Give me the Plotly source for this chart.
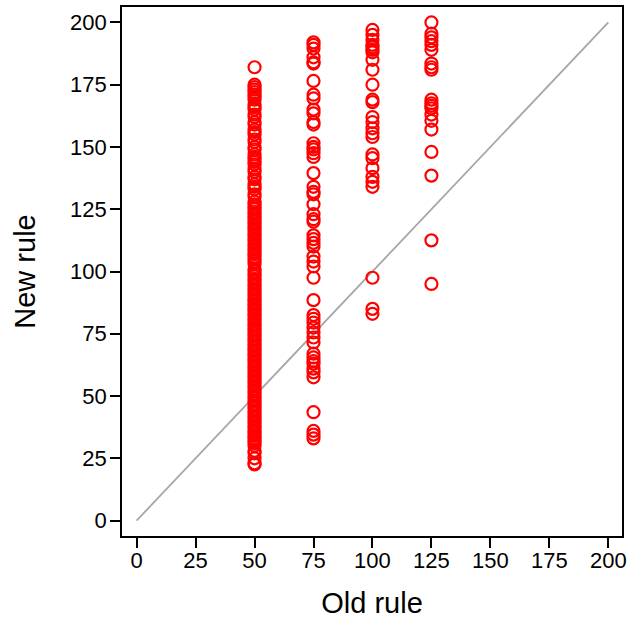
import plotly.graph_objects as go

# Scores under the old rule (discrete levels) and the new rule
old_levels = [50, 75, 100, 125]

new_at_50 = [182, 175, 174, 173, 172, 171, 170, 169, 167, 166, 165, 163, 162, 160,
             159, 157, 156, 155, 153, 152, 150, 149, 147, 146, 145, 144, 143, 141,
             140, 138, 137, 135, 134, 133, 131, 130, 128, 127, 126, 125, 124, 123,
             122, 121, 120, 119, 118, 117, 116, 115, 114, 113, 112, 111, 110, 109,
             108, 107, 106, 105, 104, 103, 101, 100, 99, 98, 97, 96, 95, 94, 93, 92,
             91, 90, 89, 88, 87, 86, 85, 84, 83, 82, 81, 80, 79, 78, 77, 76, 75, 74,
             73, 72, 71, 70, 69, 68, 67, 66, 65, 64, 63, 62, 61, 60, 59, 58, 57, 56,
             55, 54, 53, 52, 51, 50, 49, 48, 47, 46, 45, 44, 43, 42, 41, 40, 39, 38,
             37, 36, 35, 34, 33, 32, 31, 30, 28, 27, 25, 23, 22.5]

new_at_75 = [192, 191, 189.5, 186, 184, 183.5, 176.5, 171, 169.5, 165, 163.5, 160,
             159, 151.5, 150, 149, 147.5, 146, 139.5, 134, 132, 131, 127, 123, 121,
             120, 114.5, 113, 111.5, 110, 106, 104, 102, 97.5, 88.5, 82.5, 81, 79.5,
             77.5, 75.5, 73.5, 71.5, 67, 65.5, 64, 63, 61, 59.5, 57.5, 43.5, 36, 34.5,
             33]

new_at_100 = [197, 195, 193, 191, 190, 189, 188, 185, 181, 175, 169, 168, 162, 160,
              157.5, 155.5, 154, 147, 145.5, 141.5, 138, 136, 134, 97.5, 85, 83]

new_at_125 = [200, 195.5, 194, 192.5, 191, 189, 183.5, 182, 181, 169, 167.5, 166.5,
              165.5, 163, 160.5, 157, 148, 138.5, 112.5, 95]

# Reference line y = x
ref_x = [0, 200]
ref_y = [0, 200]

ticks = [0, 25, 50, 75, 100, 125, 150, 175, 200]

xs, ys = [], []
for lvl, vals in zip(old_levels, [new_at_50, new_at_75, new_at_100, new_at_125]):
    xs += [lvl] * len(vals)
    ys += vals

fig = go.Figure()
fig.add_trace(go.Scatter(
    x=ref_x, y=ref_y, mode="lines",
    line=dict(color="#a6a6a6", width=1.8),
    hoverinfo="skip", showlegend=False,
))
fig.add_trace(go.Scatter(
    x=xs, y=ys, mode="markers",
    marker=dict(symbol="circle-open", size=12, color="#ff0000",
                line=dict(color="#ff0000", width=2.2)),
    showlegend=False,
))

font_family = "Liberation Sans, Arial, sans-serif"
axis_common = dict(
    tickvals=ticks,
    ticktext=[str(t) for t in ticks],
    ticks="outside", ticklen=10, tickwidth=1.5, tickcolor="black",
    showline=True, linecolor="black", linewidth=1.6, mirror=True,
    showgrid=False, zeroline=False,
    tickfont=dict(family=font_family, size=22, color="black"),
)

fig.update_layout(
    width=632, height=619,
    margin=dict(l=122, r=5, t=6, b=81),
    paper_bgcolor="white", plot_bgcolor="white",
    xaxis=dict(**axis_common, range=[-6.2, 205.8], ticklabelstandoff=-6,
               title=dict(text="Old rule", standoff=20,
                          font=dict(family=font_family, size=29, color="black"))),
    yaxis=dict(**axis_common, range=[-6.2, 206.2], ticklabelstandoff=-1,
               title=dict(text="New rule", standoff=26,
                          font=dict(family=font_family, size=29, color="black"))),
)

fig.write_html("out.html")
